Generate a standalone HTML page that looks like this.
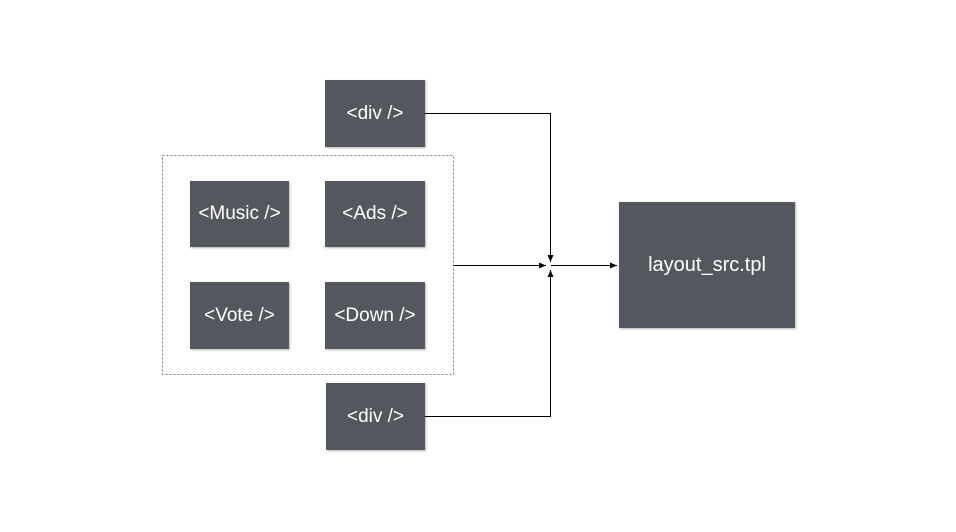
<!DOCTYPE html>
<html><head><style>
body{margin:0;width:956px;height:532px;background:#fff;position:relative;overflow:hidden;font-family:"Liberation Sans",sans-serif}
.b{position:absolute;background:#54575e;color:#fff;display:flex;align-items:center;justify-content:center;font-size:19px;box-shadow:1px 1px 2px rgba(0,0,0,.3)}
</style></head><body>
<svg width="956" height="532" style="position:absolute;left:0;top:0">
<defs><marker id="a" markerWidth="8" markerHeight="8" refX="7" refY="3" orient="auto"><path d="M0,0L7,3L0,6z" fill="#000"/></marker></defs>
<rect x="162.5" y="155.5" width="291" height="219" fill="none" stroke="#777" stroke-dasharray="2,2"/>
<path d="M425 113.5H550.5V262" fill="none" stroke="#000" marker-end="url(#a)"/>
<path d="M425 416.5H550.5V270" fill="none" stroke="#000" marker-end="url(#a)"/>
<path d="M454 265.5H546" fill="none" stroke="#000" marker-end="url(#a)"/>
<path d="M551 265.5H617" fill="none" stroke="#000" marker-end="url(#a)"/>
</svg>
<div class="b" style="left:325px;top:80px;width:100px;height:67px">&lt;div /&gt;</div>
<div class="b" style="left:190px;top:181px;width:99px;height:66px">&lt;Music /&gt;</div>
<div class="b" style="left:325px;top:181px;width:100px;height:66px">&lt;Ads /&gt;</div>
<div class="b" style="left:190px;top:282px;width:99px;height:67px">&lt;Vote /&gt;</div>
<div class="b" style="left:325px;top:282px;width:100px;height:67px">&lt;Down /&gt;</div>
<div class="b" style="left:326px;top:383px;width:99px;height:67px">&lt;div /&gt;</div>
<div class="b" style="left:619px;top:202px;width:176px;height:126px;font-size:20px">layout_src.tpl</div>
</body></html>
